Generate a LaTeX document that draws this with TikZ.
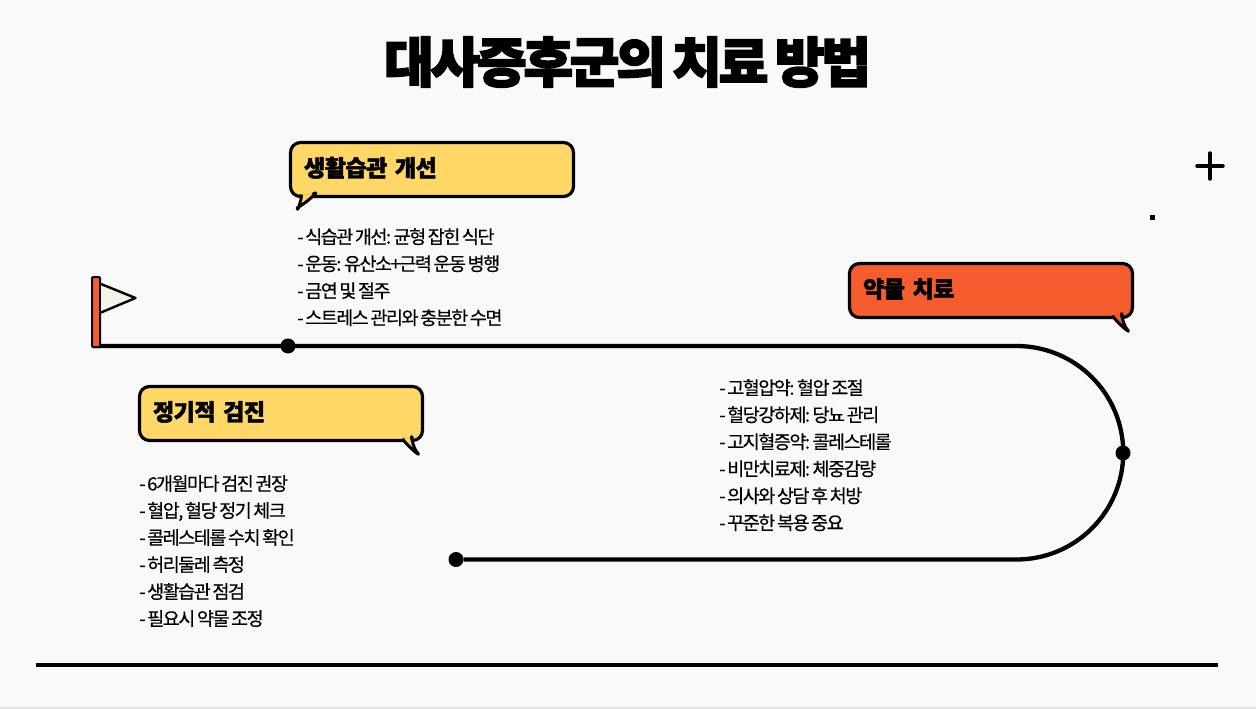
\documentclass[tikz,border=0pt]{standalone}
\usepackage{fontspec}
\setmainfont{Noto Sans CJK KR}[LetterSpace=-8, WordSpace=0.6, FakeBold=0.4]
\newfontfamily\headfont{Noto Sans CJK KR Black}[FakeBold=2, LetterSpace=-2]
\newfontfamily\titlefont{Noto Sans CJK KR Black}[FakeBold=3, LetterSpace=-6, WordSpace=0.7]
\usetikzlibrary{calc}
\definecolor{paper}{HTML}{F9F9F9}
\definecolor{sun}{HTML}{FFD766}
\definecolor{tomato}{HTML}{F55D2E}
\definecolor{cream}{HTML}{F5F2E7}

\tikzset{
    bubble/.style={draw, line width=3.2pt, rounded corners=10pt, minimum width=283pt, minimum height=54pt, anchor=north west, align=left, text width=256pt, inner sep=0pt, outer sep=0pt, text height=20pt, text depth=6pt, font=\headfont\fontsize{23}{25}\selectfont},
    tail/.style={line width=3pt, line join=round},
    steps/.style={anchor=north west, align=left, inner sep=0pt, font=\fontsize{18.5}{27}\selectfont},
    dot/.style={circle, fill=black, minimum size=15pt, inner sep=0pt},
}

\begin{document}
\begin{tikzpicture}[x=1pt,y=-1pt]

    \fill[paper] (0,0) rectangle (1256,709);
    \useasboundingbox (0,0) rectangle (1256,709);
    \fill[black!12] (0,707) rectangle (1256,709);

    \node (title) [font=\titlefont\fontsize{54}{60}\selectfont] at (627.5,62) {대사증후군의 치료 방법};

    % route
    \coordinate (start) at (92,346);
    \coordinate (bendtop) at (1016.5,346);
    \node (first) [dot] at (288,346) {};
    \node (second) [dot] at (1123,453) {};
    \node (third) [dot] at (456,559.5) {};
    \draw[line width=4.3pt] (start) -- (bendtop) arc[start angle=90, end angle=-90, radius=106.75pt] -- (third);

    % flag
    \draw[line width=2pt, fill=tomato, rounded corners=1pt] (92,277) rectangle (100,347);
    \draw[line width=2.4pt, fill=cream, line join=round] (101,284) -- (135.5,298) -- (101,312.5);

    % bubbles
    \node (habit) [bubble, fill=sun] at (290.5,142.5) {생활습관 개선};
    \filldraw[tail, fill=sun] ($(habit.south west)+(11,-2)$) .. controls +(0,6) and +(-1,7) .. ($(habit.south west)+(7,11)$) .. controls +(7,-3) and +(11,-7) .. ($(habit.south west)+(22,-2)$);

    \node (drug) [bubble, fill=tomato] at (849.5,263.5) {약물 치료};
    \filldraw[tail, fill=tomato] ($(drug.south east)+(-20,-2)$) .. controls +(3,6) and +(8,9) .. ($(drug.south east)+(-6,11)$) .. controls +(-3,-3) and +(-3,-8) .. ($(drug.south east)+(-10,-2)$);

    \node (check) [bubble, fill=sun] at (139.5,386.5) {정기적 검진};
    \filldraw[tail, fill=sun] ($(check.south east)+(-20,-2)$) .. controls +(3,6) and +(8,9) .. ($(check.south east)+(-6,11)$) .. controls +(-3,-3) and +(-3,-8) .. ($(check.south east)+(-10,-2)$);

    % lists
    \node (habitlist) [steps] at (297,228) {- 식습관 개선: 균형 잡힌 식단\\- 운동: 유산소+근력 운동 병행\\- 금연 및 절주\\- 스트레스 관리와 충분한 수면};
    \node (druglist) [steps] at (719,379) {- 고혈압약: 혈압 조절\\- 혈당강하제: 당뇨 관리\\- 고지혈증약: 콜레스테롤\\- 비만치료제: 체중감량\\- 의사와 상담 후 처방\\- 꾸준한 복용 중요};
    \node (checklist) [steps] at (139,475) {- 6개월마다 검진 권장\\- 혈압, 혈당 정기 체크\\- 콜레스테롤 수치 확인\\- 허리둘레 측정\\- 생활습관 점검\\- 필요시 약물 조정};

    % marks
    \coordinate (plusleft) at (1197,166);
    \coordinate (plusright) at (1223,166);
    \coordinate (plustop) at (1210,153);
    \coordinate (plusdown) at (1210,179);
    \draw[line width=3.5pt, line cap=round] (plusleft) -- (plusright) (plustop) -- (plusdown);
    \fill (1149.5,214.5) rectangle (1155,220);
    \draw[line width=4.5pt] (36,665) -- (1218,665);

\end{tikzpicture}
\end{document}
